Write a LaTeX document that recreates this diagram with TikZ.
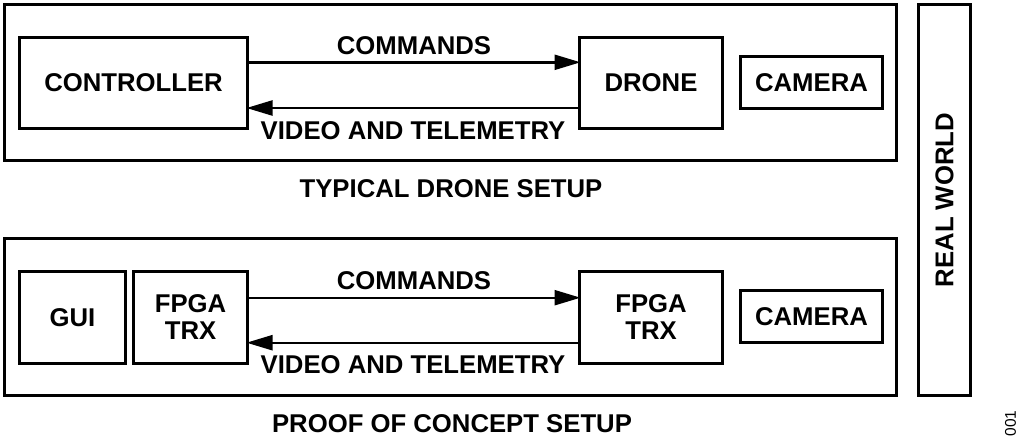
\documentclass[tikz,border=0pt]{standalone}
\usepackage{fontspec}
\setmainfont{Liberation Sans}
\usetikzlibrary{arrows.meta}
\begin{document}
\begin{tikzpicture}[x=1pt,y=-1pt,
  box/.style={draw, line width=2.7pt, inner sep=0pt, outer sep=0pt, align=center,
    font=\fontsize{25.7}{27}\selectfont\bfseries},
  lbl/.style={inner sep=0pt, anchor=base, font=\fontsize{25.7}{27}\selectfont\bfseries},
  conn/.style={line width=2.4pt, -{Triangle[length=26pt,width=15pt]}, shorten >=-1pt}
]
\useasboundingbox (0,0) rectangle (1024,444);
% top setup
\node[box, minimum width=892pt, minimum height=156pt] (top) at (450.5,82.5) {};
\node[box, minimum width=228pt, minimum height=91pt] (ctrl) at (133.5,83) {CONTROLLER};
\node[box, minimum width=143pt, minimum height=91pt] (drone) at (651,83) {DRONE};
\node[box, minimum width=142pt, minimum height=52pt] (cam1) at (811.5,82.5) {CAMERA};
\draw[conn] ([yshift=20.7pt]ctrl.east) -- ([yshift=20.7pt]ctrl.east -| drone.west);
\draw[conn] ([yshift=-25pt]drone.west) -- ([yshift=-25pt]drone.west -| ctrl.east);
\node[lbl] (cmd1) at (414,55) {COMMANDS};
\node[lbl] (vid1) at (413,139) {VIDEO AND TELEMETRY};
\node[lbl] (title1) at (451,197) {TYPICAL DRONE SETUP};
% bottom setup
\node[box, minimum width=892pt, minimum height=157pt] (bot) at (450.5,317) {};
\node[box, minimum width=106pt, minimum height=92pt] (gui) at (72.5,317.5) {GUI};
\node[box, minimum width=114pt, minimum height=92pt] (fpga1) at (190.5,317.5) {FPGA\\TRX};
\node[box, minimum width=143pt, minimum height=92pt] (fpga2) at (651,317.5) {FPGA\\TRX};
\node[box, minimum width=142pt, minimum height=52pt] (cam2) at (811.5,316.5) {CAMERA};
\draw[conn] ([yshift=19.8pt]fpga1.east) -- ([yshift=19.8pt]fpga1.east -| fpga2.west);
\draw[conn] ([yshift=-25.2pt]fpga2.west) -- ([yshift=-25.2pt]fpga2.west -| fpga1.east);
\node[lbl] (cmd2) at (414,289) {COMMANDS};
\node[lbl] (vid2) at (413,373) {VIDEO AND TELEMETRY};
\node[lbl] (title2) at (452,432) {PROOF OF CONCEPT SETUP};
% real world
\node[box, rotate=90, minimum width=391pt, minimum height=52pt] (rw) at (944.5,200) {REAL WORLD};
\node[rotate=90, inner sep=0pt, font=\fontsize{15.5}{17}\selectfont] (num) at (1010.5,423.5) {001};
\end{tikzpicture}
\end{document}
